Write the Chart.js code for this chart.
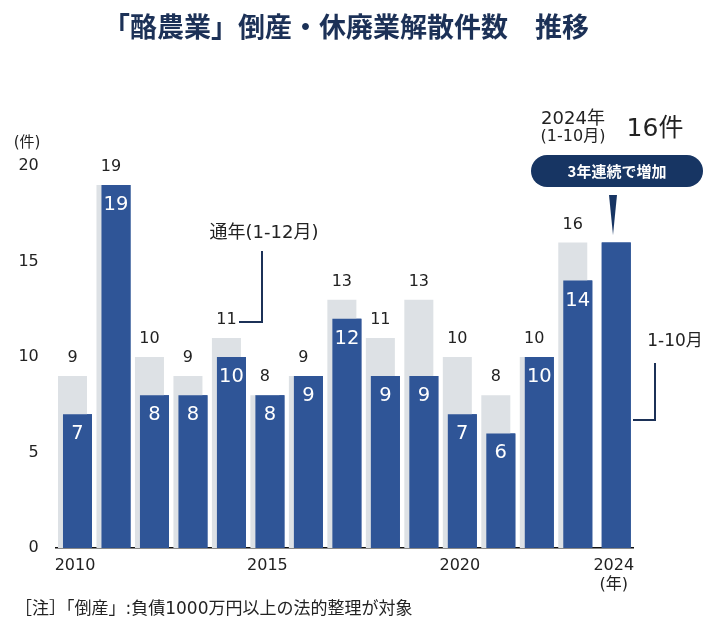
<!DOCTYPE html>
<html>
<head>
<meta charset="utf-8">
<script src="https://cdn.jsdelivr.net/npm/chart.js@4"></script>
<style>
  html, body { margin: 0; padding: 0; background: #fff; }
  #chart { display: block; }
</style>
</head>
<body>
<canvas id="chart" width="716" height="627"></canvas>
<script>
// data
const years = ['2010', '2011', '2012', '2013', '2014', '2015', '2016', '2017', '2018', '2019', '2020', '2021', '2022', '2023', '2024'];
const fullYear = [9, 19, 10, 9, 11, 8, 9, 13, 11, 13, 10, 8, 10, 16, null];   // 通年(1-12月)
const janOct = [7, 19, 8, 8, 10, 8, 9, 12, 9, 9, 7, 6, 10, 14, 16];           // 1-10月
const shownYears = ['2010', '2015', '2020', '2024'];
const yTicks = [0, 5, 10, 15, 20];

const FONT = "'DejaVu Sans', 'Noto Sans CJK JP', sans-serif";
const JP = "'Noto Sans CJK JP', sans-serif";
const NAVY = '#1c3157';
const PILL = '#173563';
const TEXT = '#222';

function txt(ctx, s, x, y, size, color, align, weight, family) {
  ctx.font = (weight || 'normal') + ' ' + size + 'px ' + (family || FONT);
  ctx.fillStyle = color;
  ctx.textAlign = align || 'center';
  ctx.textBaseline = 'middle';
  ctx.fillText(s, x, y);
}

/* blue bars go on top of the gray ones */
const blueOnTop = {
  id: 'blueOnTop',
  afterDatasetDraw(chart, args) {
    if (args.index === 0) {
      chart.getDatasetMeta(1).controller.draw();
    }
  }
};

/* value labels + annotations */
const decorPlugin = {
  id: 'decor',
  afterDatasetsDraw(chart) {
    const ctx = chart.ctx;
    const grayMeta = chart.getDatasetMeta(0);
    const blueMeta = chart.getDatasetMeta(1);
    ctx.save();

    years.forEach((y, i) => {
      if (fullYear[i] !== null) {
        const b = grayMeta.data[i];
        txt(ctx, String(fullYear[i]), b.x, b.y - 18, 16, TEXT);
      }
      if (i < years.length - 1) {
        const b = blueMeta.data[i];
        txt(ctx, String(janOct[i]), b.x, b.y + 20, 19.5, '#fff');
      }
    });

    // title
    txt(ctx, '「酪農業」倒産・休廃業解散件数　推移', 346, 27, 27, NAVY, 'center', 'bold', JP);

    // unit
    txt(ctx, '(件)', 27, 143, 15, TEXT);

    // 通年 leader
    txt(ctx, '通年(1-12月)', 264, 233, 18, TEXT);
    ctx.strokeStyle = NAVY;
    ctx.lineWidth = 2;
    ctx.beginPath();
    ctx.moveTo(262, 251);
    ctx.lineTo(262, 322);
    ctx.lineTo(239, 322);
    ctx.stroke();

    // 1-10月 leader
    txt(ctx, '1-10月', 675, 342, 17, TEXT);
    ctx.beginPath();
    ctx.moveTo(655, 363);
    ctx.lineTo(655, 420);
    ctx.lineTo(633, 420);
    ctx.stroke();

    // 2024 callout
    txt(ctx, '2024年', 573, 119, 18, TEXT);
    txt(ctx, '(1-10月)', 573, 137, 16, TEXT);
    txt(ctx, '16件', 655, 129, 25, TEXT);

    ctx.fillStyle = PILL;
    ctx.beginPath();
    ctx.roundRect(531, 155, 172, 32, 16);
    ctx.fill();
    txt(ctx, '3年連続で増加', 617, 171, 15, '#fff', 'center', 'bold', JP);

    ctx.fillStyle = PILL;
    ctx.beginPath();
    ctx.moveTo(609, 195);
    ctx.lineTo(617, 195);
    ctx.lineTo(613, 235);
    ctx.closePath();
    ctx.fill();

    // footnote
    txt(ctx, '［注］「倒産」:負債1000万円以上の法的整理が対象', 15, 610, 17, TEXT, 'left');

    ctx.restore();
  }
};

new Chart(document.getElementById('chart'), {
  type: 'bar',
  data: {
    labels: years,
    datasets: [
      {
        label: '通年(1-12月)',
        data: fullYear,
        backgroundColor: '#dde1e5',
        borderWidth: 0,
        categoryPercentage: 0.26,
        barPercentage: 5.8
      },
      {
        label: '1-10月',
        data: janOct,
        backgroundColor: '#2f5597',
        borderWidth: 0,
        categoryPercentage: 0.26,
        barPercentage: 5.8
      }
    ]
  },
  options: {
    responsive: false,
    animation: false,
    events: [],
    devicePixelRatio: 1,
    layout: { padding: { top: 166, left: 0, right: 83, bottom: 0 } },
    plugins: {
      legend: { display: false },
      tooltip: { enabled: false },
      title: { display: false }
    },
    scales: {
      x: {
        grid: { display: false, drawTicks: false },
        border: { display: true, color: '#111', width: 1.5 },
        ticks: {
          autoSkip: false,
          maxRotation: 0,
          padding: 8,
          color: TEXT,
          font: { family: FONT, size: 16 },
          callback: function (v, i) {
            const lab = years[i];
            if (lab === '2024') return ['2024', '(年)'];
            return shownYears.includes(lab) ? lab : '';
          }
        },
        afterFit: s => { s.height = 79; }
      },
      y: {
        min: 0,
        max: 20,
        grid: { display: false, drawTicks: false },
        border: { display: false },
        afterBuildTicks: s => { s.ticks = yTicks.map(v => ({ value: v })); },
        ticks: {
          padding: 17,
          color: TEXT,
          font: { family: FONT, size: 16 }
        },
        afterFit: s => { s.width = 55.75; }
      }
    }
  },
  plugins: [blueOnTop, decorPlugin]
});
</script>
</body>
</html>
